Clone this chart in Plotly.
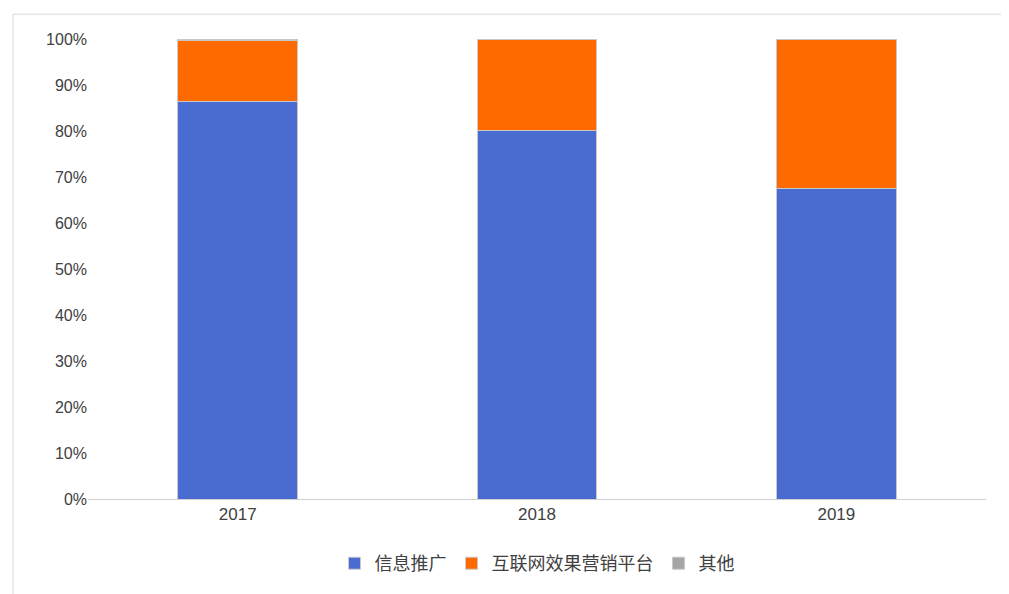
import plotly.graph_objects as go

years = ["2017", "2018", "2019"]
info_promo = [86.5, 80.2, 67.6]
internet_mkt = [13.2, 19.7, 32.3]
other = [0.3, 0.1, 0.1]

fig = go.Figure()
fig.add_trace(go.Bar(x=years, y=info_promo, name="信息推广", marker_color="#4a6bd0"))
fig.add_trace(go.Bar(x=years, y=internet_mkt, name="互联网效果营销平台", marker_color="#ff6a00"))
fig.add_trace(go.Bar(x=years, y=other, name="其他", marker_color="#a5a5a5"))

fig.update_traces(marker_line_color="#c8c8c8", marker_line_width=1)
fig.update_layout(
    barmode="stack", bargap=0.6,
    width=1009, height=594,
    paper_bgcolor="white", plot_bgcolor="white",
    margin=dict(l=80, r=31, t=31, b=103, autoexpand=False),
    font=dict(family="Liberation Sans, Noto Sans CJK SC", size=17, color="#404040"),
    yaxis=dict(range=[0, 100], dtick=10, ticksuffix="%", showgrid=False,
               zeroline=False, ticks="", tickfont=dict(size=16)),
    xaxis=dict(showline=True, linecolor="#d0d0d0", linewidth=1, ticks=""),
    legend=dict(orientation="h", x=0.5, xanchor="center", y=-0.1, yanchor="top",
                traceorder="normal", font=dict(size=18), itemwidth=30),
    shapes=[dict(type="rect", xref="paper", yref="paper",
                 x0=-0.0835, x1=1.029, y0=-0.213, y1=1.054,
                 line=dict(color="#d9d9d9", width=1))],
)
fig.write_html("out.html")
